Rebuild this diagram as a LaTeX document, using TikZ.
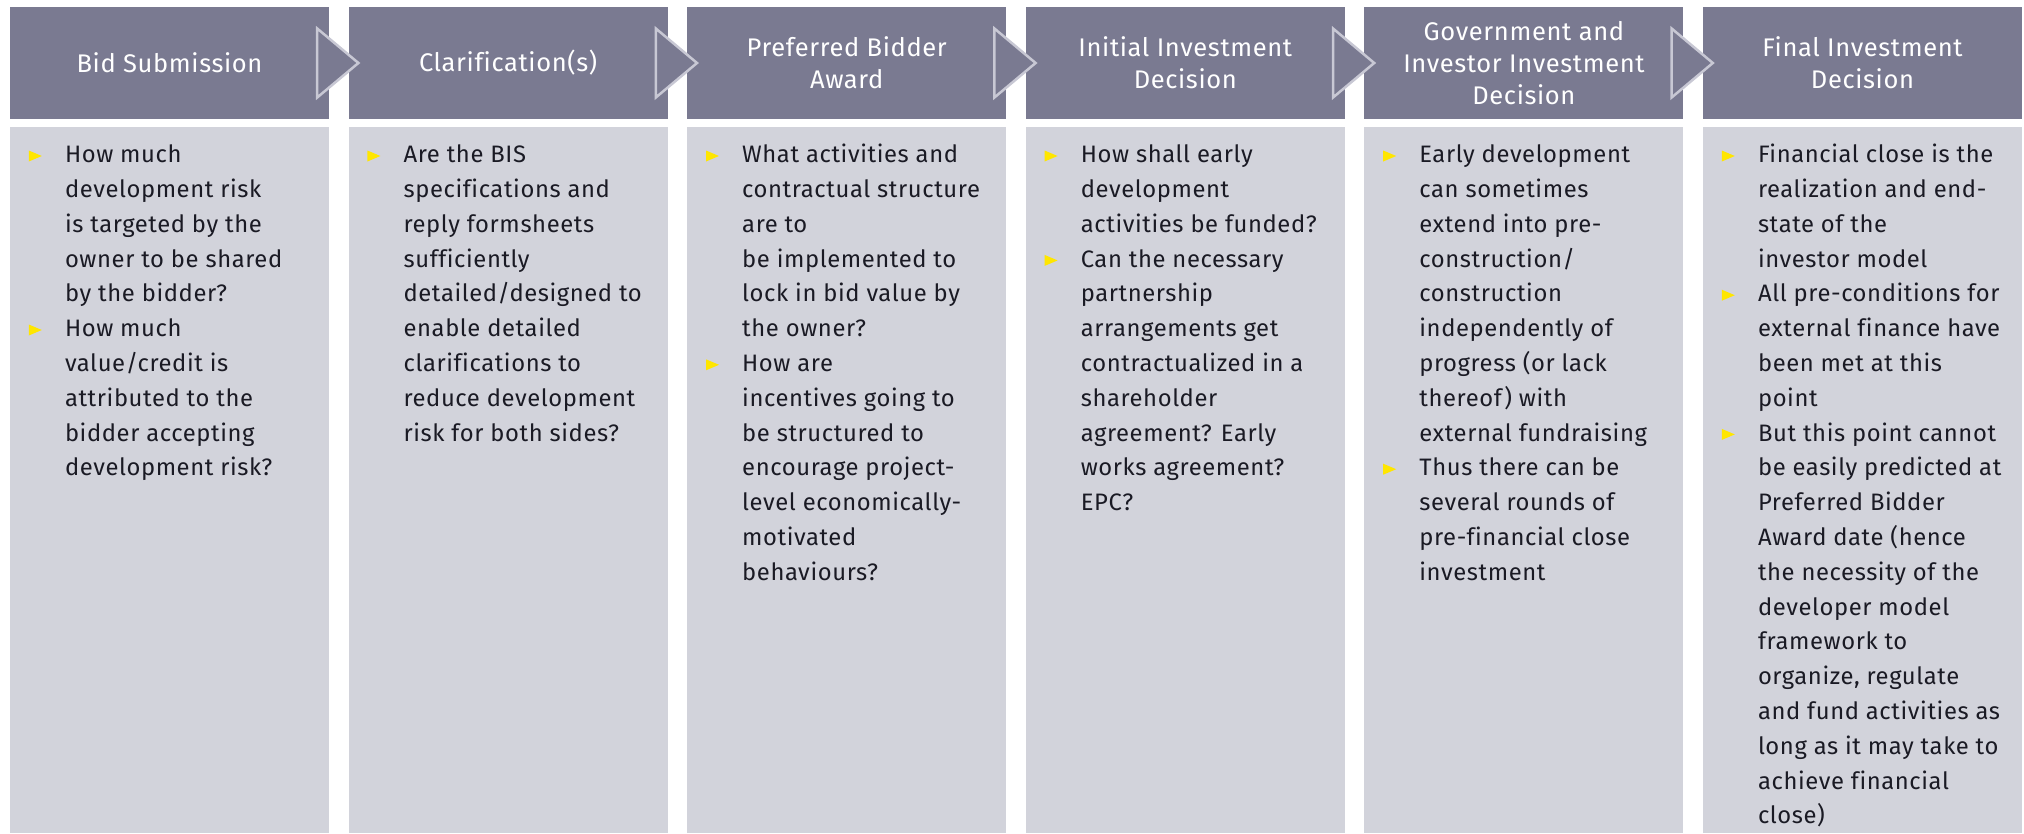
\documentclass[tikz,border=0pt]{standalone}
\usepackage{fontspec}
\setmainfont{Fira Sans}[LetterSpace=2.5,Ligatures=NoCommon]
\usetikzlibrary{calc}
\definecolor{hdrcol}{RGB}{122,122,145}
\definecolor{bodycol}{RGB}{210,211,219}
\definecolor{chevline}{RGB}{200,200,212}
\definecolor{eyyellow}{RGB}{255,230,0}
\definecolor{txtcol}{RGB}{26,26,36}
\tikzset{
  hdr/.style={fill=hdrcol, minimum width=319pt, minimum height=112pt, inner sep=0pt,
    text=white, align=center, font=\fontsize{25.5}{32}\selectfont},
  bodybox/.style={fill=bodycol, minimum width=319pt, minimum height=706pt, inner sep=0pt},
  bodytxt/.style={anchor=north west, inner sep=0pt, align=left, text=txtcol,
    font=\fontsize{23.8}{34.8}\selectfont},
  chev/.style={fill=hdrcol, draw=chevline, line width=2.5pt, line join=miter},
  bullet/.style={fill=eyyellow}
}
\newcommand{\bulat}[2]{\fill[bullet] ($(#1.north west)+(19,{23.7+34.8*#2})$) -- ++(13,5.5) -- ++(-13,5.5) -- cycle;}
\begin{document}
\begin{tikzpicture}[x=1pt,y=-1pt]
\useasboundingbox (0,0) rectangle (2024,833);
\fill[white] (0,0) rectangle (2024,833);
% headers
\node[hdr] (h1) at (169.5,63) {Bid Submission};
\node[hdr] (h2) at (508.1,63) {Clarification(s)};
\node[hdr] (h3) at (846.7,63) {Preferred Bidder\\Award};
\node[hdr] (h4) at (1185.3,63) {Initial Investment\\Decision};
\node[hdr] (h5) at (1523.9,63) {Government and\\Investor Investment\\Decision};
\node[hdr] (h6) at (1862.5,63) {Final Investment\\Decision};
% chevrons
\foreach \a/\b in {h1/h2,h2/h3,h3/h4,h4/h5,h5/h6}{
  \draw[chev] ($(\a.east)+(-12,-34.5)$) -- ($(\b.west)+(10,0)$) -- ($(\a.east)+(-12,34.5)$) -- cycle;
}
% bodies
\node[bodybox] (b1) at (169.5,480) {};
\node[bodybox] (b2) at (508.1,480) {};
\node[bodybox] (b3) at (846.7,480) {};
\node[bodybox] (b4) at (1185.3,480) {};
\node[bodybox] (b5) at (1523.9,480) {};
\node[bodybox] (b6) at (1862.5,480) {};
% texts
\node[bodytxt] (t1) at ($(b1.north west)+(55,15.7)$) {\rule{0pt}{20pt}How much\\development risk\\is targeted by the\\owner to be shared\\by the bidder?\\How much\\value/credit is\\attributed to the\\bidder accepting\\development risk?};
\node[bodytxt] (t2) at ($(b2.north west)+(55,15.7)$) {\rule{0pt}{20pt}Are the BIS\\specifications and\\reply formsheets\\sufficiently\\detailed/designed to\\enable detailed\\clarifications to\\reduce development\\risk for both sides?};
\node[bodytxt] (t3) at ($(b3.north west)+(55,15.7)$) {\rule{0pt}{20pt}What activities and\\contractual structure\\are to\\be implemented to\\lock in bid value by\\the owner?\\How are\\incentives going to\\be structured to\\encourage project-\\level economically-\\motivated\\behaviours?};
\node[bodytxt] (t4) at ($(b4.north west)+(55,15.7)$) {\rule{0pt}{20pt}How shall early\\development\\activities be funded?\\Can the necessary\\partnership\\arrangements get\\contractualized in a\\shareholder\\agreement? Early\\works agreement?\\EPC?};
\node[bodytxt] (t5) at ($(b5.north west)+(55,15.7)$) {\rule{0pt}{20pt}Early development\\can sometimes\\extend into pre-\\construction/\\construction\\independently of\\progress (or lack\\thereof) with\\external fundraising\\Thus there can be\\several rounds of\\pre-financial close\\investment};
\node[bodytxt] (t6) at ($(b6.north west)+(55,15.7)$) {\rule{0pt}{20pt}Financial close is the\\realization and end-\\state of the\\investor model\\All pre-conditions for\\external finance have\\been met at this\\point\\But this point cannot\\be easily predicted at\\Preferred Bidder\\Award date (hence\\the necessity of the\\developer model\\framework to\\organize, regulate\\and fund activities as\\long as it may take to\\achieve financial\\close)};
% bullets
\bulat{b1}{0} \bulat{b1}{5}
\bulat{b2}{0}
\bulat{b3}{0} \bulat{b3}{6}
\bulat{b4}{0} \bulat{b4}{3}
\bulat{b5}{0} \bulat{b5}{9}
\bulat{b6}{0} \bulat{b6}{4} \bulat{b6}{8}
\end{tikzpicture}
\end{document}
